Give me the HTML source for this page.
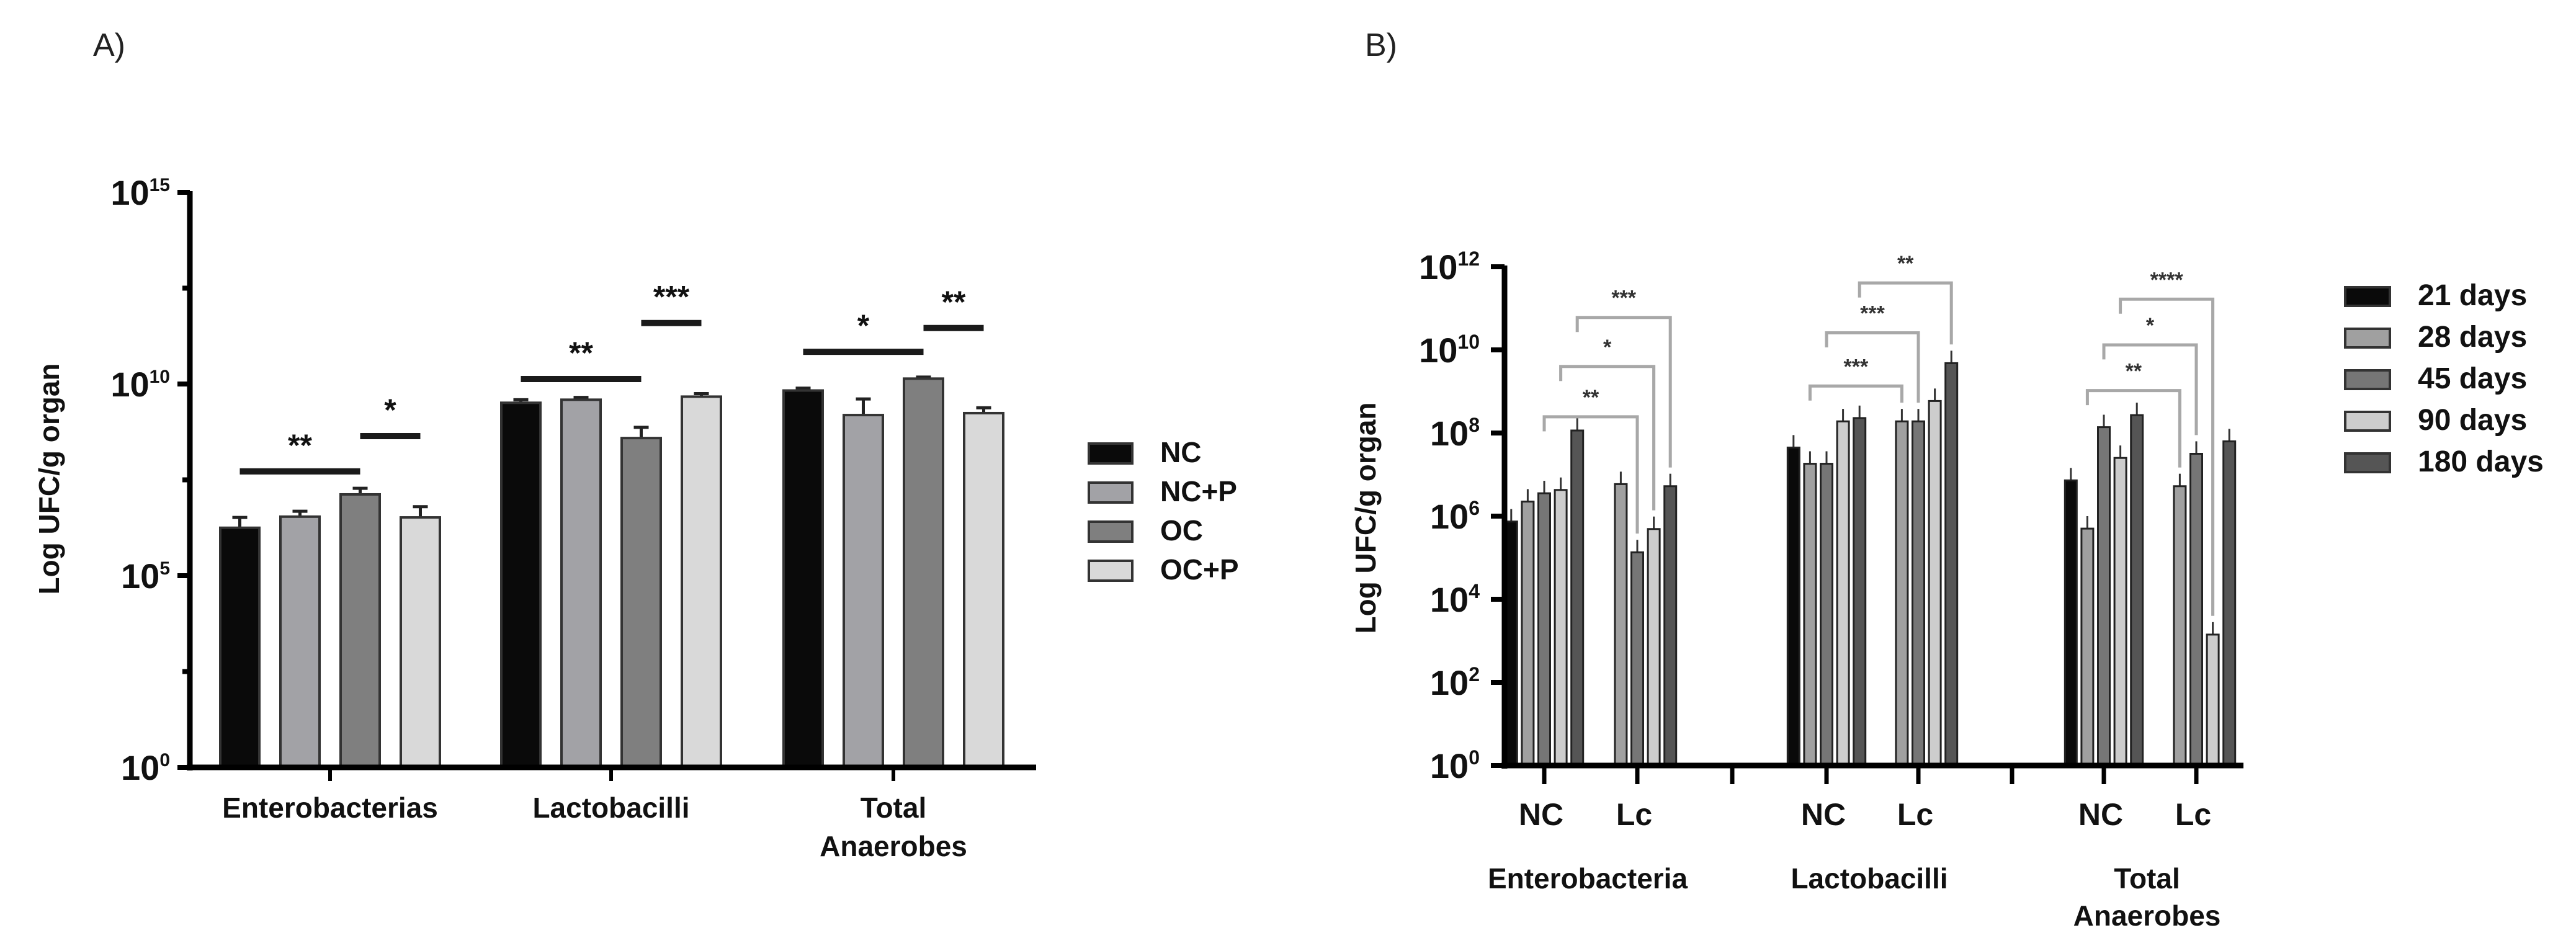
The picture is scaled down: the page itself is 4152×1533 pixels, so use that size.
<!DOCTYPE html>
<html><head><meta charset="utf-8"><style>
html,body{margin:0;padding:0;background:#fff;}
svg{display:block;font-family:"Liberation Sans",Arial,sans-serif;}
</style></head><body>
<svg id="chart" width="4152" height="1533" viewBox="0 0 4152 1533" xmlns="http://www.w3.org/2000/svg">
<text x="150" y="90" font-size="52" fill="#222">A)</text>
<text x="2200" y="90" font-size="52" fill="#222">B)</text>
<g id="pa"></g>
<g id="pb"></g>
</svg>
<script>
// Panel A data (log10 values)
const aCategories = ["Enterobacterias","Lactobacilli","Total|Anaerobes"];
const aSeries = ["NC","NC+P","OC","OC+P"];
const aNC   = [6.25, 9.51, 9.83];
const aNCP  = [6.54, 9.59, 9.19];
const aOC   = [7.12, 8.59, 10.14];
const aOCP  = [6.52, 9.67, 9.24];
const aErr  = [[0.27,0.08,0.06],[0.14,0.06,0.42],[0.16,0.28,0.04],[0.28,0.08,0.14]];
const aTicks = [0,5,10,15];
const aSig = [[0,0,2,"**",7.72],[0,2,3,"*",8.64],[1,0,2,"**",10.13],[1,2,3,"***",11.59],[2,0,2,"*",10.84],[2,2,3,"**",11.46]];
// Panel B data
const bCategories = ["Enterobacteria","Lactobacilli","Total|Anaerobes"];
const bGroups = ["NC","Lc"];
const bSeries = ["21 days","28 days","45 days","90 days","180 days"];
const bNC = [[5.87,6.35,6.55,6.63,8.06],[7.65,7.26,7.26,8.28,8.36],[6.86,5.70,8.14,7.40,8.43]];
const bLc = [[null,6.77,5.13,5.69,6.72],[null,8.28,8.28,8.77,9.68],[null,6.72,7.50,3.15,7.80]];
const bTicks = [0,2,4,6,8,10,12];
const bSig = [[0,2,"**",8.39],[0,3,"*",9.6],[0,4,"***",10.78],[1,1,"***",9.13],[1,2,"***",10.41],[1,4,"**",11.61],[2,1,"**",9.02],[2,2,"*",10.12],[2,3,"****",11.22]];

const NS="http://www.w3.org/2000/svg";
function mk(parent,tag,attrs,txt){const e=document.createElementNS(NS,tag);for(const k in attrs)e.setAttribute(k,attrs[k]);if(txt!==undefined)e.textContent=txt;parent.appendChild(e);return e;}

// ---------- Panel A ----------
(function(){
const g=document.getElementById('pa');
const y0=1237, dec=61.8, ax=306, axEnd=1670;
const Y=v=>y0-v*dec;
const gx=[532,985,1440], pitch=97, bw=63;
const X=(c,s)=>gx[c]+(s-1.5)*pitch;
const cols=["#0a0a0a","#a2a2a6","#7f7f7f","#d9d9d9"];
const vals=[aNC,aNCP,aOC,aOCP];
for(let s=0;s<4;s++)for(let c=0;c<3;c++){
  const v=vals[s][c], x=X(c,s), e=aErr[s][c];
  const er=mk(g,'line',{x1:x,x2:x,y1:Y(v),y2:Y(v+e),stroke:'#222','stroke-width':5});
  
  
  const cap=mk(g,'line',{x1:x-12,x2:x+12,y1:Y(v+e),y2:Y(v+e),stroke:'#222','stroke-width':5});
  
  
  const r=mk(g,'rect',{x:x-bw/2,y:Y(v),width:bw,height:Y(0)-Y(v),fill:cols[s],stroke:'#333','stroke-width':4});
  
  
}
mk(g,'line',{x1:ax,x2:ax,y1:Y(15)-2,y2:Y(0)+5,stroke:'#000','stroke-width':9});
mk(g,'line',{x1:ax-5,x2:axEnd,y1:Y(0),y2:Y(0),stroke:'#000','stroke-width':9});
aTicks.forEach(t=>{
  mk(g,'line',{x1:ax-20,x2:ax,y1:Y(t),y2:Y(t),stroke:'#000','stroke-width':8});
  const tx=mk(g,'text',{x:ax-32,y:Y(t)+20,'font-size':56,'font-weight':'bold','text-anchor':'end',fill:'#111'});
  
  
  mk(tx,'tspan',{},'10');
  mk(tx,'tspan',{dy:-22,'font-size':30},String(t));
});
[2.5,7.5,12.5].forEach(t=>mk(g,'line',{x1:ax-12,x2:ax,y1:Y(t),y2:Y(t),stroke:'#000','stroke-width':8}));
aCategories.forEach((c,i)=>{
  mk(g,'line',{x1:gx[i],x2:gx[i],y1:Y(0),y2:Y(0)+22,stroke:'#000','stroke-width':6});
  c.split('|').forEach((p,j)=>{
    const t=mk(g,'text',{x:gx[i],y:1318+j*62,'font-size':46,'font-weight':'bold','text-anchor':'middle',fill:'#111'},p);
    
    
  });
});
const yl=mk(g,'text',{x:0,y:0,'font-size':46,'font-weight':'bold','text-anchor':'middle',fill:'#111',transform:'translate(95,772) rotate(-90)'},'Log UFC/g organ');


aSig.forEach(s=>{
  const xa=X(s[0],s[1]), xb=X(s[0],s[2]);
  const ln=mk(g,'line',{x1:xa,x2:xb,y1:Y(s[4]),y2:Y(s[4]),stroke:'#1a1a1a','stroke-width':10});
  
  
  const st=mk(g,'text',{x:(xa+xb)/2,y:Y(s[4])-25,'font-size':50,'font-weight':'bold','text-anchor':'middle',fill:'#111'},s[3]);
  
  
});
aSeries.forEach((n,i)=>{
  const r=mk(g,'rect',{x:1755,y:715+i*63,width:70,height:32,fill:cols[i],stroke:'#333','stroke-width':4});
  
  
  const t=mk(g,'text',{x:1870,y:745+i*63,'font-size':46,'font-weight':'bold',fill:'#111'},n);
  
  
});
})();

// ---------- Panel B ----------
(function(){
const g=document.getElementById('pb');
const y0=1234, dec=67, ax=2425, axEnd=3616;
const Y=v=>y0-v*dec;
const sub=[[2489,2639],[2944,3092],[3391,3540]], seps=[2792,3243];
const pitch=26.6, bw=19;
const X=(c,gi,s)=>sub[c][gi]+(s-2)*pitch;
const cols=["#0a0a0a","#a0a0a0","#767676","#cdcdcd","#555555"];
const data=[bNC,bLc];
for(let gi=0;gi<2;gi++)for(let c=0;c<3;c++)for(let s=0;s<5;s++){
  const v=data[gi][c][s]; if(v===null)continue;
  const x=X(c,gi,s);
  const er=mk(g,'line',{x1:x,x2:x,y1:Y(v),y2:Y(v+0.3),stroke:'#333','stroke-width':3});
  
  
  const r=mk(g,'rect',{x:x-bw/2,y:Y(v),width:bw,height:Y(0)-Y(v),fill:cols[s],stroke:'#222','stroke-width':3});
  
  
}
mk(g,'line',{x1:ax,x2:ax,y1:Y(12)-2,y2:Y(0)+5,stroke:'#000','stroke-width':9});
mk(g,'line',{x1:ax-5,x2:axEnd,y1:Y(0),y2:Y(0),stroke:'#000','stroke-width':9});
bTicks.forEach(t=>{
  mk(g,'line',{x1:ax-22,x2:ax,y1:Y(t),y2:Y(t),stroke:'#000','stroke-width':8});
  const tx=mk(g,'text',{x:ax-40,y:Y(t)+20,'font-size':56,'font-weight':'bold','text-anchor':'end',fill:'#111'});
  
  
  mk(tx,'tspan',{},'10');
  mk(tx,'tspan',{dy:-22,'font-size':32},String(t));
});
sub.forEach((p,c)=>p.forEach((x,gi)=>{
  mk(g,'line',{x1:x,x2:x,y1:Y(0),y2:Y(0)+30,stroke:'#000','stroke-width':7});
  const t=mk(g,'text',{x:x-5,y:1330,'font-size':50,'font-weight':'bold','text-anchor':'middle',fill:'#111'},bGroups[gi]);
  
  
}));
seps.forEach(x=>mk(g,'line',{x1:x,x2:x,y1:Y(0),y2:Y(0)+30,stroke:'#000','stroke-width':7}));
bCategories.forEach((c,i)=>{
  const cx=(sub[i][0]+sub[i][1])/2-5;
  c.split('|').forEach((p,j)=>{
    const t=mk(g,'text',{x:cx,y:1432+j*60,'font-size':46,'font-weight':'bold','text-anchor':'middle',fill:'#111'},p);
    
    
  });
});
const yl=mk(g,'text',{x:0,y:0,'font-size':46,'font-weight':'bold','text-anchor':'middle',fill:'#111',transform:'translate(2217,835) rotate(-90)'},'Log UFC/g organ');


bSig.forEach(s=>{
  const c=s[0], i=s[1], lv=s[3];
  const xa=X(c,0,i), xb=X(c,1,i);
  const rightTop=(bLc[c][i]||0)+0.45;
  const p=mk(g,'path',{d:`M${xa},${Y(lv-0.35)} L${xa},${Y(lv)} L${xb},${Y(lv)} L${xb},${Y(rightTop)}`,fill:'none',stroke:'#a8a8a8','stroke-width':5});
  
  
  const st=mk(g,'text',{x:(xa+xb)/2,y:Y(lv)-20,'font-size':34,'font-weight':'bold','text-anchor':'middle',fill:'#333'},s[2]);
  
  
});
bSeries.forEach((n,i)=>{
  const r=mk(g,'rect',{x:3780,y:463+i*67,width:72,height:30,fill:cols[i],stroke:'#333','stroke-width':4});
  
  
  const t=mk(g,'text',{x:3897,y:492+i*67,'font-size':48,'font-weight':'bold',fill:'#111'},n);
  
  
});
})();
</script>
</body></html>
